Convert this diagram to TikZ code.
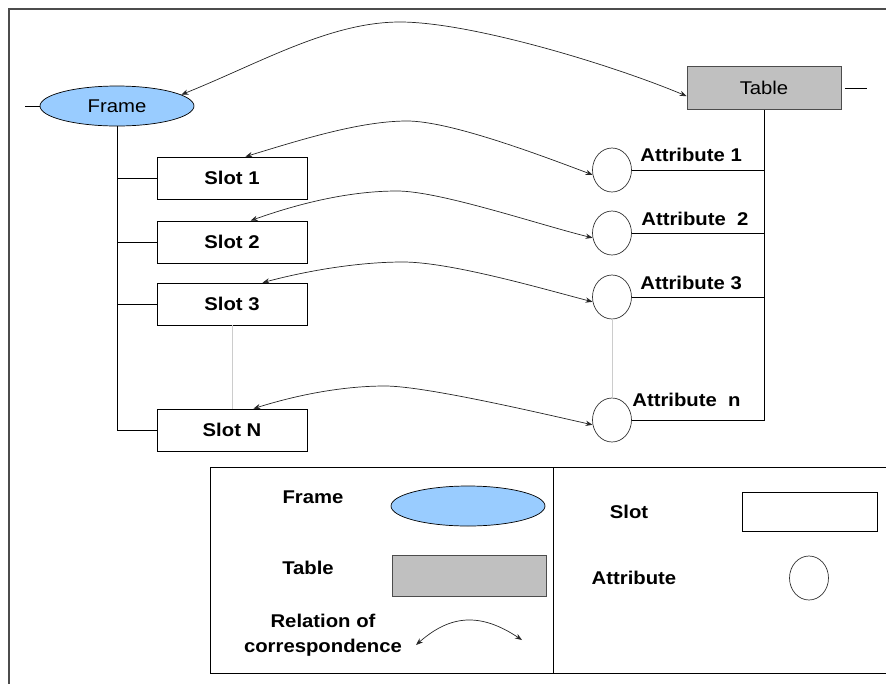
\documentclass[tikz,border=0pt]{standalone}
\usepackage{fontspec}
\setmainfont{Liberation Sans}[FakeStretch=1.1]
\usetikzlibrary{arrows.meta,shapes.geometric}
\definecolor{framefill}{RGB}{153,204,255}
\definecolor{tablefill}{RGB}{192,192,192}
\newcommand{\diafont}{\fontsize{10.5}{14.5}\selectfont}
\tikzset{
  framenode/.style={ellipse, draw=black, fill=framefill, minimum width=3.08cm,
    minimum height=0.8cm, inner sep=0pt, font=\diafont},
  tablenode/.style={rectangle, draw=black!70, fill=tablefill, minimum width=3.08cm,
    minimum height=0.86cm, inner sep=0pt, font=\diafont},
  slotnode/.style={rectangle, draw=black, minimum width=3cm, minimum height=0.84cm,
    inner sep=0pt, font=\diafont\bfseries},
  attnode/.style={ellipse, draw=black!80, minimum width=0.78cm, minimum height=0.88cm,
    inner sep=0pt},
  attlabel/.style={anchor=west, inner sep=0pt, font=\diafont\bfseries},
  legtext/.style={inner sep=0pt, font=\diafont\bfseries},
  corr/.style={<->, >={Stealth[length=4pt,width=3pt]}, draw=black!85},
  gapline/.style={draw=black!20},
}

\begin{document}
\begin{tikzpicture}[x=0.02cm, y=-0.02cm]
\useasboundingbox (0,0) rectangle (886,684);

%% Outer border
\draw[line width=1.2pt, black!70] (886,9) -- (9,9) -- (9,684);

%% Frame and slots
\node[framenode] (frame) at (117,106) {Frame};
\node[slotnode] (s1) at (232,178) {Slot 1};
\node[slotnode] (s2) at (232,242) {Slot 2};
\node[slotnode] (s3) at (232,304) {Slot 3};
\node[slotnode] (sN) at (232,430) {Slot N};
\draw (frame.west) -- ++(-15,0);
\draw (frame.south) |- (sN.west);
\foreach \s in {s1,s2,s3}
  \draw (\s.west) -- (\s.west -| frame.south);
\draw[gapline] (s3.south) -- (sN.north);

%% Table and attributes
\node[tablenode] (table) at (764,88) {Table};
\node[attnode] (a1) at (612,170) {};
\node[attnode] (a2) at (612,233) {};
\node[attnode] (a3) at (612,297) {};
\node[attnode] (aN) at (612,420) {};
\draw ([xshift=2pt]table.east) -- ++(22,0);
\draw (table.south) |- (aN.east);
\foreach \a in {a1,a2,a3}
  \draw (\a.east) -- (\a.east -| table.south);
\draw[gapline] (a3.south) -- (aN.north);
\node[attlabel] (l1) at (640,155) {Attribute 1};
\node[attlabel] (l2) at (641,219) {Attribute~ 2};
\node[attlabel] (l3) at (640,283) {Attribute 3};
\node[attlabel] (lN) at (632,400) {Attribute~ n};

%% Relations of correspondence
\coordinate (pt) at (400,22);
\coordinate (p1) at (407,121);
\coordinate (p2) at (397,191);
\coordinate (p3) at (403,262);
\coordinate (pN) at (385,386);
\draw[corr] (frame.10) .. controls (260,63) and (330,22) .. (pt)
  .. controls (470,22) and (610,64) .. (table.186);
\draw[corr] (s1.58) .. controls (300,140) and (360,121) .. (p1)
  .. controls (450,121) and (540,155) .. (a1.194);
\draw[corr] (s2.49) .. controls (300,203) and (350,191) .. (p2)
  .. controls (440,191) and (540,225) .. (a2.194);
\draw[corr] (s3.35) .. controls (310,270) and (360,262) .. (p3)
  .. controls (450,262) and (540,288) .. (a3.194);
\draw[corr] (sN.45) .. controls (300,394) and (345,386) .. (pN)
  .. controls (425,386) and (540,413) .. (aN.194);

%% Legend
\draw (886,467) -| (210,673) -- (886,673);
\draw (553,467) -- (553,673);
\node[legtext] (lfr) at (313,497) {Frame};
\node[framenode] (kfr) at (468,506) {};
\node[legtext] (ltb) at (308,568) {Table};
\node[tablenode, minimum height=0.82cm] (ktb) at (469,576) {};
\node[legtext, align=center] (lrel) at (323,635) {Relation of\\correspondence};
\coordinate (kr1) at (416,645);
\coordinate (kr2) at (522,640);
\draw[corr] (kr1) .. controls (450,615) and (480,612) .. (kr2);
\node[legtext] (lsl) at (629,512) {Slot};
\node[slotnode, minimum width=2.7cm, minimum height=0.78cm] (ksl) at (810,512) {};
\node[legtext] (lat) at (634,578) {Attribute};
\node[attnode] (kat) at (809,578) {};

\end{tikzpicture}
\end{document}
